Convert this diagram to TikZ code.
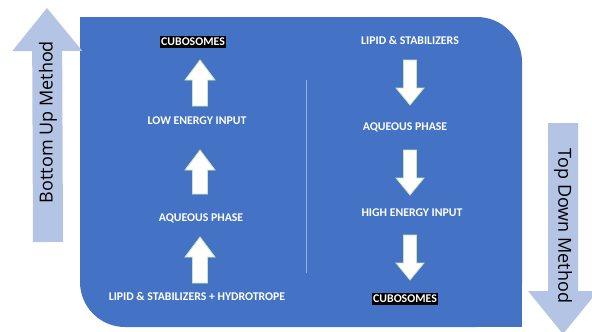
\documentclass[tikz,border=0pt]{standalone}
\usepackage{fontspec}
\setmainfont{Carlito}
\newfontfamily\methodfont{Open Sans}
\usetikzlibrary{calc}

\definecolor{panelblue}{RGB}{68,114,196}
\definecolor{methodblue}{RGB}{180,196,228}
\definecolor{arrowrim}{RGB}{200,228,176}
\definecolor{divider}{RGB}{150,176,226}

% sizes of a block arrow: half shaft width, half head width, head length
\tikzset{bshaft/.store in=\bshaft, bhead/.store in=\bhead, blen/.store in=\blen,
  bshaft=7.5pt, bhead=15pt, blen=20pt}

% block arrow #2 -> #3, look and sizes in #1
\newcommand{\blockarrow}[3]{%
  \begin{scope}[#1]
    \coordinate (hb) at ($(#3)!\blen!(#2)$);
    \path[#1] ($(#2)!\bshaft!90:(#3)$) -- ($(hb)!\bshaft!90:(#3)$)
      -- ($(hb)!\bhead!90:(#3)$) -- (#3) -- ($(hb)!\bhead!-90:(#3)$)
      -- ($(hb)!\bshaft!-90:(#3)$) -- ($(#2)!\bshaft!-90:(#3)$) -- cycle;
  \end{scope}}

\begin{document}
\begin{tikzpicture}
  [x=1pt, y=-1pt,
  label/.style={text=white, font=\fontsize{11.8}{14}\selectfont\bfseries, inner sep=1pt},
  cubo/.style={label, fill=black, inner ysep=2pt},
  stepup/.style={fill=white, draw=arrowrim, line width=0.8pt},
  stepdown/.style={stepup, bshaft=6.5pt, bhead=14pt, blen=17pt},
  methodarrow/.style={fill=methodblue, bshaft=15pt, bhead=35pt, blen=43pt},
  methodtext/.style={font=\methodfont\fontsize{18}{21}\selectfont, text=black}]
  \useasboundingbox (0,0) rectangle (592,332);

  % panel, rounded top right and bottom left
  \fill[panelblue, rounded corners=45pt] (80,17) rectangle (522,327);
  \fill[panelblue] (80,17) rectangle (200,150);
  \fill[panelblue] (400,200) rectangle (522,327);
  \draw[divider, line width=0.8pt] (306,80) -- (306,273);

  % bottom up column
  \node[cubo]  (bcubo) at (193,42)  {CUBOSOMES};
  \node[label] (lowin) at (197,121) {LOW ENERGY INPUT};
  \node[label] (baq)   at (201,218) {AQUEOUS PHASE};
  \node[label] (bmix)  at (197,296) {LIPID \& STABILIZERS + HYDROTROPE};

  \coordinate (b1) at ($(bmix)+(3,-13)$);   \coordinate (b2) at ($(baq)+(-1,19)$);
  \coordinate (b3) at ($(baq)+(-1,-24)$);   \coordinate (b4) at ($(lowin)+(3,29)$);
  \coordinate (b5) at ($(lowin)+(3,-15)$);  \coordinate (b6) at ($(bcubo)+(7,18)$);
  \blockarrow{stepup}{b1}{b2}
  \blockarrow{stepup}{b3}{b4}
  \blockarrow{stepup}{b5}{b6}

  % top down column
  \node[label] (tmix)   at (410,40)  {LIPID \& STABILIZERS};
  \node[label] (taq)    at (405,127) {AQUEOUS PHASE};
  \node[label] (highin) at (412,213) {HIGH ENERGY INPUT};
  \node[cubo]  (tcubo)  at (405,299) {CUBOSOMES};

  \coordinate (t1) at ($(tmix)+(0,20)$);    \coordinate (t2) at ($(taq)+(5,-22)$);
  \coordinate (t3) at ($(taq)+(5,23)$);     \coordinate (t4) at ($(highin)+(-2,-18)$);
  \coordinate (t5) at ($(highin)+(-2,22)$); \coordinate (t6) at ($(tcubo)+(5,-19)$);
  \blockarrow{stepdown}{t1}{t2}
  \blockarrow{stepdown}{t3}{t4}
  \blockarrow{stepdown}{t5}{t6}

  % method arrows at the sides
  \coordinate (upfoot) at (48,242);  \coordinate (uptip) at (47,8);
  \blockarrow{methodarrow}{upfoot}{uptip}
  \node[methodtext, rotate=90] (bottomup) at (48,122) {Bottom Up Method};

  \coordinate (downfoot) at (563,123); \coordinate (downtip) at (563,334);
  \blockarrow{methodarrow}{downfoot}{downtip}
  \node[methodtext, rotate=-90] (topdown) at (563,226) {Top Down Method};
\end{tikzpicture}
\end{document}
